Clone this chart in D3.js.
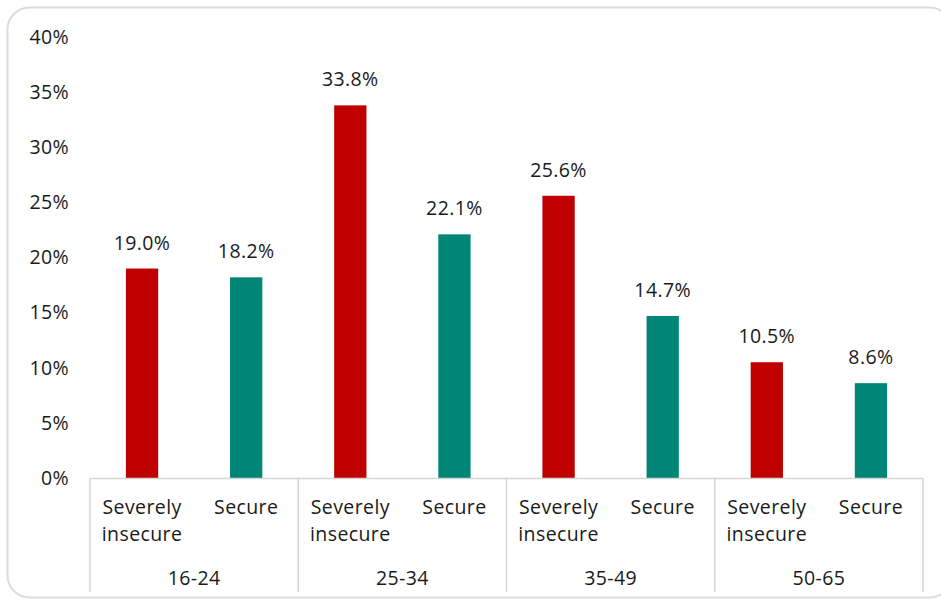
<!DOCTYPE html>
<html><head><meta charset="utf-8">
<script src="https://cdn.jsdelivr.net/npm/d3@7"></script>
<style>body{margin:0;background:#fff}svg{display:block}text{font-family:"Open Sans","Noto Sans",sans-serif;fill:#1a1a1a;letter-spacing:0.4px}</style>
</head><body><svg id="c" width="941" height="600"></svg>
<script>
const groups = ["16-24","25-34","35-49","50-65"];
const subcats = ["Severely insecure","Secure"];
const severely = [19.0, 33.8, 25.6, 10.5];
const secure = [18.2, 22.1, 14.7, 8.6];
const yTicks = [0,5,10,15,20,25,30,35,40];
const colors = {"Severely insecure":"#C00000","Secure":"#008577"};

const svg = d3.select("#c");
const fs = 19.5;
svg.append("rect").attr("x",7.5).attr("y",7.5).attr("width",944).attr("height",590)
  .attr("rx",22).attr("fill","#fff").attr("stroke","#dcdcdc").attr("stroke-width",2);

const L=90, R=923, T=37, B=478;
const y = d3.scaleLinear().domain([0,40]).range([B,T]);
const x0 = d3.scaleBand().domain(groups).range([L,R]);
const x1 = d3.scaleBand().domain(subcats).range([0,x0.bandwidth()]).paddingInner(0.69).paddingOuter(0.345);

const data = [];
groups.forEach((g,i)=>{data.push({g,s:subcats[0],v:severely[i]});data.push({g,s:subcats[1],v:secure[i]});});

// y axis labels
const ya = svg.append("g").attr("transform",`translate(${L-21},0)`)
  .call(d3.axisLeft(y).tickValues(yTicks).tickFormat(d=>d+"%").tickSize(0).tickPadding(0));
ya.select(".domain").remove();
ya.selectAll("text").attr("font-size",fs).style("font-family","'Open Sans','Noto Sans',sans-serif").attr("fill","#1a1a1a");

// bars
svg.selectAll(".bar").data(data).join("rect")
  .attr("x",d=>x0(d.g)+x1(d.s)).attr("width",x1.bandwidth())
  .attr("y",d=>y(d.v)).attr("height",d=>B-y(d.v)).attr("fill",d=>colors[d.s]);

svg.selectAll(".lbl").data(data).join("text")
  .attr("x",d=>x0(d.g)+x1(d.s)+x1.bandwidth()/2).attr("y",d=>y(d.v)-19)
  .attr("text-anchor","middle").attr("font-size",fs).text(d=>d.v.toFixed(1)+"%");

// category axis lines
const lc="#d6d6d6";
svg.append("line").attr("x1",L).attr("x2",R).attr("y1",B+0.5).attr("y2",B+0.5).attr("stroke",lc).attr("stroke-width",1.5);
const edges = groups.map(g=>x0(g)).concat([R]);
svg.selectAll(".sep").data(edges).join("line")
  .attr("x1",d=>d).attr("x2",d=>d).attr("y1",B).attr("y2",592).attr("stroke",lc).attr("stroke-width",1.5);

// sub category labels
data.forEach(d=>{
  const cx = x0(d.g)+x1(d.s)+x1.bandwidth()/2;
  const words = d.s.split(" ");
  const t = svg.append("text").attr("text-anchor","middle").attr("font-size",fs);
  words.forEach((w,i)=>t.append("tspan").attr("x",cx).attr("y",514+i*27).text(w));
});
svg.selectAll(".gl").data(groups).join("text")
  .attr("x",d=>x0(d)+x0.bandwidth()/2).attr("y",585).attr("text-anchor","middle").attr("font-size",fs).text(d=>d);
</script></body></html>
